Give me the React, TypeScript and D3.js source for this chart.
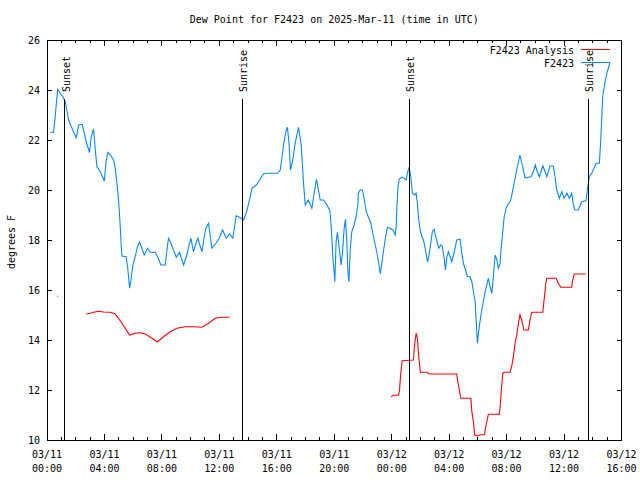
import React from "react";
import * as d3 from "d3";

// hours after 2025-03-11 00:00 UTC
const stationHours = [0.23,0.46,0.58,0.74,0.93,1.11,1.27,1.34,1.50,1.74,1.92,2.04,2.20,2.44,2.55,2.73,2.96,3.08,3.24,3.36,3.48,3.71,3.99,4.11,4.24,4.41,4.63,4.75,4.87,4.94,5.03,5.10,5.17,5.22,5.50,5.61,5.68,5.75,5.85,5.98,6.14,6.30,6.44,6.61,6.77,7.00,7.19,7.54,7.70,7.93,8.23,8.35,8.46,8.63,8.81,9.00,9.23,9.39,9.51,9.74,9.92,10.02,10.20,10.37,10.51,10.60,10.79,10.95,11.06,11.25,11.48,11.76,11.99,12.22,12.48,12.71,12.94,13.17,13.40,13.68,13.90,14.10,14.27,14.57,14.84,15.07,15.26,16.05,16.24,16.35,16.47,16.63,16.74,16.86,16.95,17.09,17.28,17.51,17.70,17.86,17.98,18.20,18.44,18.60,18.76,18.90,19.02,19.25,19.49,19.67,19.72,19.83,19.90,19.99,20.04,20.13,20.22,20.36,20.48,20.57,20.69,20.78,20.88,20.95,21.02,21.11,21.22,21.38,21.52,21.64,21.68,21.80,21.96,22.08,22.20,22.27,22.55,22.73,22.96,23.08,23.21,23.31,23.42,23.54,23.70,23.89,24.08,24.24,24.31,24.36,24.43,24.52,24.70,24.86,25.00,25.09,25.21,25.33,25.44,25.58,25.70,25.79,25.86,25.98,26.10,26.21,26.33,26.49,26.60,26.72,26.83,26.95,27.07,27.18,27.28,27.42,27.53,27.65,27.74,27.84,27.95,28.07,28.18,28.30,28.41,28.53,28.76,28.88,28.99,29.18,29.27,29.46,29.58,29.69,29.81,29.87,29.97,30.04,30.16,30.27,30.38,30.50,30.62,30.73,30.85,30.97,31.08,31.20,31.32,31.43,31.55,31.59,31.71,31.82,31.96,32.12,32.29,32.43,32.59,32.75,32.93,33.12,33.28,33.70,33.86,34.00,34.14,34.28,34.52,34.68,34.80,35.02,35.25,35.37,35.49,35.67,35.84,36.00,36.19,36.37,36.53,36.65,36.76,36.99,37.23,37.53,37.65,37.76,37.93,38.09,38.23,38.46,38.56,38.62,38.69,38.85,39.01,39.20];
const stationValues = [22.31,22.31,23.0,24.03,23.87,23.73,23.53,23.33,22.8,22.47,22.23,22.09,22.6,22.63,22.4,21.93,21.5,22.13,22.44,21.6,20.93,20.73,20.36,21.13,21.5,21.4,21.2,20.87,20.27,19.87,19.2,18.53,17.73,17.36,17.33,16.93,16.53,16.07,16.4,17.0,17.33,17.73,17.91,17.67,17.4,17.67,17.51,17.51,17.33,17.0,17.0,17.6,18.07,17.87,17.6,17.31,17.51,17.2,17.0,17.4,17.87,18.07,17.53,17.87,18.07,17.87,17.53,18.13,18.47,18.67,17.67,17.87,18.07,18.4,18.07,18.24,18.07,18.97,18.91,18.8,19.13,19.6,20.07,20.2,20.43,20.64,20.67,20.67,20.8,21.27,21.8,22.33,22.51,21.8,20.8,21.13,21.87,22.51,21.8,20.27,19.4,19.6,19.27,19.87,20.43,20.0,19.6,19.6,19.4,19.2,19.07,18.13,17.33,16.73,16.33,17.93,18.31,17.6,17.0,17.47,18.47,18.83,17.87,16.73,16.33,17.6,18.33,18.6,18.93,19.4,19.87,20.0,20.0,19.67,19.2,19.07,18.67,18.13,17.53,17.13,16.64,17.07,17.53,18.0,18.51,18.47,18.4,18.2,18.53,19.27,20.07,20.43,20.51,20.47,20.4,20.67,20.91,20.53,19.87,19.8,19.87,19.47,18.93,18.4,18.13,18.0,17.67,17.13,17.4,17.87,18.33,18.43,18.13,17.87,17.67,17.8,17.73,17.27,16.8,17.33,17.53,17.33,17.13,17.4,17.67,18.0,18.03,17.47,17.07,16.73,16.53,16.53,16.33,15.93,15.53,14.87,13.87,14.27,14.8,15.2,15.53,15.93,16.2,16.47,16.13,15.87,16.55,17.4,17.2,16.87,17.07,17.47,18.2,18.87,19.27,19.44,19.6,20.0,20.47,20.93,21.4,20.93,20.49,20.53,20.73,21.0,20.73,20.53,20.97,20.73,20.53,20.96,20.96,20.53,20.0,19.67,19.93,19.67,19.87,19.67,19.87,19.4,19.2,19.2,19.53,19.57,20.13,20.53,20.67,20.87,21.07,21.07,22.07,22.8,23.73,24.33,24.73,25.1];

// analysis series: NaN marks a gap
const analysisHours = [0.74,NaN,2.73,3.01,3.24,3.59,3.94,4.41,4.75,5.22,5.75,6.14,6.49,6.84,7.42,7.68,8.11,8.58,9.05,9.62,10.20,10.79,11.25,11.71,12.18,12.71,NaN,23.96,24.12,24.47,24.54,24.63,24.73,25.51,25.58,25.70,25.79,25.89,26.00,26.44,26.62,28.53,28.60,28.71,28.81,29.51,29.58,29.69,29.78,29.97,30.16,30.45,30.55,30.69,30.73,31.50,31.55,31.62,31.73,31.82,32.24,32.35,32.47,32.59,32.71,32.82,32.93,33.05,33.21,33.51,33.63,33.75,34.52,34.61,34.73,34.80,35.45,35.60,35.77,36.53,36.60,36.71,37.51];
const analysisValues = [15.75,NaN,15.04,15.07,15.11,15.15,15.12,15.11,15.04,14.67,14.2,14.27,14.29,14.24,14.03,13.92,14.13,14.33,14.47,14.53,14.53,14.51,14.67,14.87,14.91,14.91,NaN,11.73,11.79,11.79,11.97,12.67,13.17,13.2,13.73,14.27,14.07,13.27,12.71,12.71,12.64,12.64,12.33,12.0,11.67,11.67,11.13,10.73,10.2,10.16,10.21,10.21,10.53,10.91,11.03,11.03,11.33,11.89,12.67,12.71,12.71,12.93,13.33,13.87,14.2,14.67,15.0,14.8,14.4,14.4,14.8,15.11,15.11,15.6,16.27,16.47,16.47,16.27,16.11,16.11,16.4,16.64,16.64];

const sunEventHours = [1.22, 13.61, 25.23, 37.67];
const sunEventLabels = ["Sunset", "Sunrise", "Sunset", "Sunrise"];

const xTickHours = [0, 4, 8, 12, 16, 20, 24, 28, 32, 36, 40];
const xTickDates = ["03/11", "03/11", "03/11", "03/11", "03/11", "03/11", "03/12", "03/12", "03/12", "03/12", "03/12"];
const xTickTimes = ["00:00", "04:00", "08:00", "12:00", "16:00", "20:00", "00:00", "04:00", "08:00", "12:00", "16:00"];
const yTicks = [10, 12, 14, 16, 18, 20, 22, 24, 26];

const title = "Dew Point for F2423 on 2025-Mar-11 (time in UTC)";
const yLabel = "degrees F";
const seriesNames = ["F2423 Analysis", "F2423"];

const W = 640, H = 480;
const L = 47, R = 621.5, T = 40, B = 440;
const FONT = "'DejaVu Sans Mono', 'Liberation Mono', monospace";
const BLUE = "#0a86ff";
const RED = "#ff0000";

export default function App() {
  const x = d3.scaleLinear().domain([0, 40]).range([L, R]);
  const y = d3.scaleLinear().domain([10, 26]).range([B, T]);

  const blue = stationHours.map((h, i) => [h, stationValues[i]] as [number, number]);
  const red = analysisHours.map((h, i) => [h, analysisValues[i]] as [number, number]);
  const line = d3.line<[number, number]>()
    .defined((d) => !isNaN(d[0]) && !isNaN(d[1]))
    .x((d) => x(d[0]))
    .y((d) => y(d[1]));

  // isolated analysis points (no neighbours) drawn as dots
  const isolated = red.filter((d, i) => !isNaN(d[0]) &&
    (i === 0 || isNaN(red[i - 1][0])) && (i === red.length - 1 || isNaN(red[i + 1][0])));

  const minorHours = d3.range(0, 41).filter((h) => h % 4 !== 0);

  return (
    <svg width={W} height={H} style={{ display: "block", position: "absolute", left: 0, top: 0, background: "#fff" }}
      fontFamily={FONT} fontSize={10}>
      <rect x={0} y={0} width={W} height={H} fill="#fff" />
      <text x={(L + R) / 2} y={23} textAnchor="middle" fill="#000">{title}</text>

      {/* data */}
      <path d={line(red) || ""} fill="none" stroke={RED} strokeWidth={1.1} />
      {isolated.map((d, i) => (
        <rect key={i} x={x(d[0]) - 0.5} y={y(d[1]) - 0.5} width={1} height={1} fill={RED} />
      ))}
      <path d={line(blue) || ""} fill="none" stroke={BLUE} strokeWidth={1.1} />

      {/* sun events */}
      {sunEventHours.map((h, i) => (
        <g key={i}>
          <line x1={x(h)} x2={x(h)} y1={99} y2={B} stroke="#000" strokeWidth={1} shapeRendering="crispEdges" />
          <text transform={`translate(${x(h) + 5},92) rotate(-90)`} textAnchor="start" fill="#000">{sunEventLabels[i]}</text>
        </g>
      ))}

      {/* frame and ticks */}
      <g shapeRendering="crispEdges" stroke="#000" strokeWidth={1}>
        <rect x={L} y={T} width={R - L} height={B - T} fill="none" />
        {xTickHours.map((h) => (
          <g key={"M" + h}>
            <line x1={x(h)} x2={x(h)} y1={B} y2={B - 6} />
            <line x1={x(h)} x2={x(h)} y1={T} y2={T + 6} />
          </g>
        ))}
        {minorHours.map((h) => (
          <g key={"m" + h}>
            <line x1={x(h)} x2={x(h)} y1={B} y2={B - 3} />
            <line x1={x(h)} x2={x(h)} y1={T} y2={T + 3} />
          </g>
        ))}
        {yTicks.map((v) => (
          <g key={"y" + v}>
            <line x1={L} x2={L + 5} y1={y(v)} y2={y(v)} />
            <line x1={R} x2={R - 5} y1={y(v)} y2={y(v)} />
          </g>
        ))}
      </g>

      {yTicks.map((v) => (
        <text key={"yl" + v} x={40} y={y(v) + 3.5} textAnchor="end" fill="#000">{v}</text>
      ))}
      {xTickHours.map((h, i) => (
        <g key={"xl" + h}>
          <text x={x(h)} y={458} textAnchor="middle" fill="#000">{xTickDates[i]}</text>
          <text x={x(h)} y={472} textAnchor="middle" fill="#000">{xTickTimes[i]}</text>
        </g>
      ))}
      <text transform={`translate(15,242) rotate(-90)`} textAnchor="middle" fill="#000">{yLabel}</text>

      {/* legend */}
      <text x={574} y={53.5} textAnchor="end" fill="#000">{seriesNames[0]}</text>
      <line x1={581} x2={610} y1={49.5} y2={49.5} stroke={RED} strokeWidth={1} />
      <text x={574} y={66.5} textAnchor="end" fill="#000">{seriesNames[1]}</text>
      <line x1={581} x2={610} y1={62.5} y2={62.5} stroke={BLUE} strokeWidth={1} />
    </svg>
  );
}
